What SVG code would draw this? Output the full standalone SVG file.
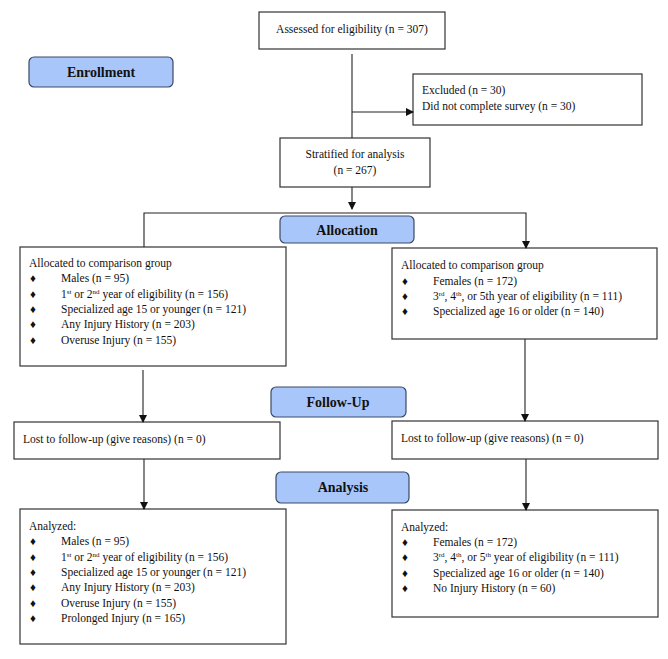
<svg xmlns="http://www.w3.org/2000/svg" width="668" height="659" viewBox="0 0 668 659">
<style>
.b{fill:#fff;stroke:#333;stroke-width:1.2}
.h{fill:#a9c6fa;stroke:#3a4a66;stroke-width:1.2}
text{font-family:"Liberation Serif",serif;font-size:11.5px;fill:#111}
.t{font-weight:bold;font-size:14px;text-anchor:middle}
.c{text-anchor:middle}
.l{stroke:#222;stroke-width:1.1;fill:none}
</style>
<defs><marker id="a" markerWidth="8" markerHeight="8" refX="7" refY="4" orient="auto" markerUnits="userSpaceOnUse"><path d="M0,0L8,4L0,8z" fill="#111"/></marker></defs>
<g id="assessed"><rect class="b" x="259" y="12" width="186" height="37"/><text x="352" y="33" class="c">Assessed for eligibility (n = 307)</text></g>
<g id="enrollment"><rect class="h" x="29" y="57" width="144" height="30" rx="5"/><text x="101" y="77" class="t">Enrollment</text></g>
<g id="excluded"><rect class="b" x="413" y="74" width="229" height="51"/><text x="422" y="94">Excluded (n = 30)</text><text x="422" y="110">Did not complete survey (n = 30)</text></g>
<g id="stratified"><rect class="b" x="280" y="138" width="150" height="49"/><text x="355" y="158" class="c">Stratified for analysis</text><text x="355" y="174" class="c">(n = 267)</text></g>
<g id="allocation"><rect class="h" x="280" y="216" width="134" height="27" rx="5"/><text x="347" y="235" class="t">Allocation</text></g>
<g id="allocLeft"><rect class="b" x="20" y="247" width="266" height="119"/>
<text x="29" y="267">Allocated to comparison group</text>
<text x="30" y="282">♦</text><text x="61" y="282">Males (n = 95)</text>
<text x="30" y="298">♦</text><text x="61" y="298">1<tspan font-size="7" dy="-4">st</tspan><tspan dy="4"> or 2</tspan><tspan font-size="7" dy="-4">nd</tspan><tspan dy="4"> year of eligibility (n = 156)</tspan></text>
<text x="30" y="313">♦</text><text x="61" y="313">Specialized age 15 or younger (n = 121)</text>
<text x="30" y="328">♦</text><text x="61" y="328">Any Injury History (n = 203)</text>
<text x="30" y="344">♦</text><text x="61" y="344">Overuse Injury (n = 155)</text></g>
<g id="allocRight"><rect class="b" x="392" y="248" width="265" height="91"/>
<text x="401" y="269">Allocated to comparison group</text>
<text x="402" y="285">♦</text><text x="433" y="285">Females (n = 172)</text>
<text x="402" y="300">♦</text><text x="433" y="300">3<tspan font-size="7" dy="-4">rd</tspan><tspan dy="4">, 4</tspan><tspan font-size="7" dy="-4">th</tspan><tspan dy="4">, or 5th year of eligibility (n = 111)</tspan></text>
<text x="402" y="315">♦</text><text x="433" y="315">Specialized age 16 or older (n = 140)</text></g>
<g id="followup"><rect class="h" x="271" y="387" width="135" height="30" rx="5"/><text x="338" y="407" class="t">Follow-Up</text></g>
<g id="lostLeft"><rect class="b" x="14" y="422" width="266" height="37"/><text x="23" y="443">Lost to follow-up (give reasons) (n = 0)</text></g>
<g id="lostRight"><rect class="b" x="392" y="421" width="266" height="38"/><text x="401" y="442">Lost to follow-up (give reasons) (n = 0)</text></g>
<g id="analysis"><rect class="h" x="276" y="472" width="133" height="31" rx="5"/><text x="343" y="492" class="t">Analysis</text></g>
<g id="analyzedLeft"><rect class="b" x="20" y="509" width="266" height="135"/>
<text x="29" y="530">Analyzed:</text>
<text x="30" y="545">♦</text><text x="61" y="545">Males (n = 95)</text>
<text x="30" y="561">♦</text><text x="61" y="561">1<tspan font-size="7" dy="-4">st</tspan><tspan dy="4"> or 2</tspan><tspan font-size="7" dy="-4">nd</tspan><tspan dy="4"> year of eligibility (n = 156)</tspan></text>
<text x="30" y="576">♦</text><text x="61" y="576">Specialized age 15 or younger (n = 121)</text>
<text x="30" y="591">♦</text><text x="61" y="591">Any Injury History (n = 203)</text>
<text x="30" y="607">♦</text><text x="61" y="607">Overuse Injury (n = 155)</text>
<text x="30" y="622">♦</text><text x="61" y="622">Prolonged Injury (n = 165)</text></g>
<g id="analyzedRight"><rect class="b" x="392" y="510" width="266" height="107"/>
<text x="401" y="531">Analyzed:</text>
<text x="402" y="546">♦</text><text x="433" y="546">Females (n = 172)</text>
<text x="402" y="561">♦</text><text x="433" y="561">3<tspan font-size="7" dy="-4">rd</tspan><tspan dy="4">, 4</tspan><tspan font-size="7" dy="-4">th</tspan><tspan dy="4">, or 5</tspan><tspan font-size="7" dy="-4">th</tspan><tspan dy="4"> year of eligibility (n = 111)</tspan></text>
<text x="402" y="577">♦</text><text x="433" y="577">Specialized age 16 or older (n = 140)</text>
<text x="402" y="592">♦</text><text x="433" y="592">No Injury History (n = 60)</text></g>
<g id="connectors">
<path class="l" d="M352,54V138"/>
<path class="l" d="M352,112H413" marker-end="url(#a)"/>
<path class="l" d="M352,187V209" marker-end="url(#a)"/>
<path class="l" d="M144,247V213H526V248" marker-end="url(#a)"/>
<path class="l" d="M143,370V422" marker-end="url(#a)"/>
<path class="l" d="M525,339V421" marker-end="url(#a)"/>
<path class="l" d="M144,459V509" marker-end="url(#a)"/>
<path class="l" d="M526,459V510" marker-end="url(#a)"/>
</g>
</svg>
